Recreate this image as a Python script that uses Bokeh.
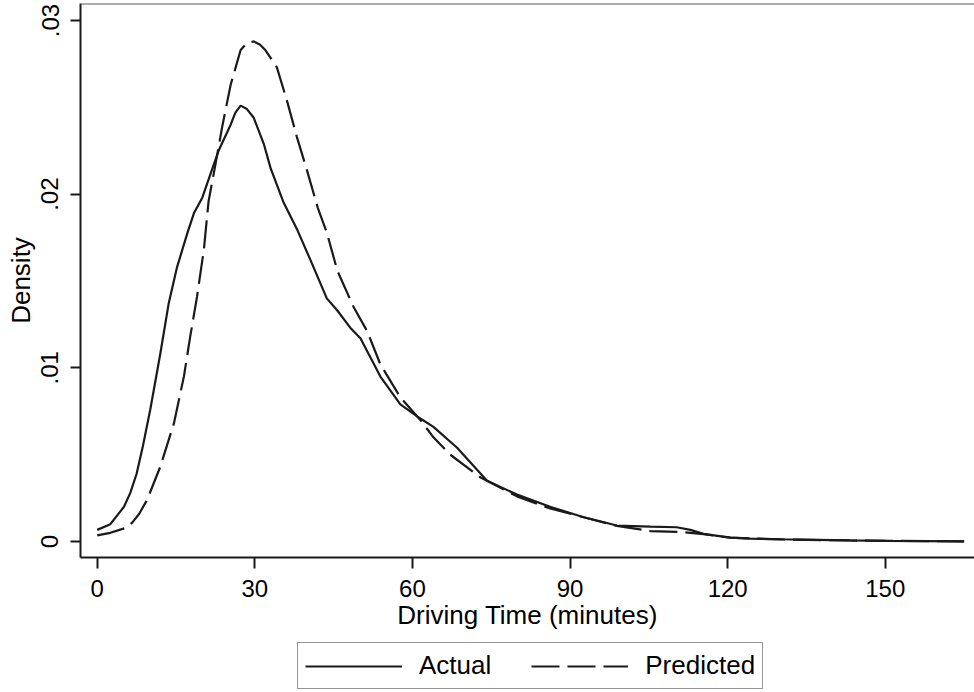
from bokeh.plotting import figure
from bokeh.layouts import column
from bokeh.models import Range1d, FixedTicker, Legend, LegendItem, Span, ColumnDataSource
from bokeh.embed import file_html
from bokeh.resources import INLINE

# ---- data ----
actual_x = [0, 2.5, 5.1, 6.3, 7.5, 8.7, 10.1, 12.0, 13.6, 15.2, 17.1, 18.4, 20.0,
            21.6, 23.1, 25.4, 26.3, 27.3, 28.5, 29.8, 31.7, 33.0, 35.5, 38.0, 40.6,
            43.7, 45.7, 48.2, 50.1, 53.9, 57.7, 60.9, 64.0, 68.5, 74.2, 79.9, 86.2,
            92.6, 98.9, 105.3, 110.3, 112.9, 115.4, 120.5, 124.3, 130.6, 133.8, 143.3,
            150.0, 165.0]
actual_y = [0.00067, 0.0010, 0.0020, 0.0028, 0.0039, 0.0055, 0.0076, 0.0108, 0.0137,
            0.0158, 0.0177, 0.0189, 0.0198, 0.0212, 0.0225, 0.0240, 0.0247, 0.0251,
            0.0249, 0.0244, 0.0229, 0.0215, 0.0195, 0.0180, 0.0162, 0.0140, 0.0133,
            0.0123, 0.0117, 0.0095, 0.0079, 0.0072, 0.0066, 0.0054, 0.0035, 0.0027,
            0.0020, 0.0014, 0.00092, 0.00086, 0.00082, 0.00067, 0.00044, 0.00022,
            0.00017, 0.00013, 0.00011, 0.00006, 0.00004, 0.00001]

pred_x = [0, 2.5, 5.4, 6.7, 8.0, 9.5, 12.0, 14.6, 16.5, 17.7, 19.0, 20.3, 21.2, 22.5,
          23.8, 25.4, 27.3, 28.5, 29.8, 31.0, 32.0, 34.2, 36.1, 38.0, 40.0, 42.0, 43.7,
          45.7, 48.8, 51.4, 53.9, 57.7, 61.5, 64.0, 67.2, 72.9, 79.9, 86.2, 92.6, 98.9,
          105.3, 111.5, 115.4, 120.5, 130.0, 143.0, 165.0]
pred_y = [0.00035, 0.00050, 0.00078, 0.0011, 0.0016, 0.0024, 0.0043, 0.0068, 0.0095,
          0.0118, 0.0141, 0.0168, 0.0196, 0.0217, 0.0239, 0.0263, 0.0283, 0.0287,
          0.0288, 0.0286, 0.0283, 0.0273, 0.0254, 0.0233, 0.0213, 0.0192, 0.0178,
          0.0156, 0.0135, 0.0121, 0.0102, 0.0083, 0.0070, 0.0060, 0.0050, 0.0037,
          0.0026, 0.0019, 0.0014, 0.0009, 0.0006, 0.00054, 0.00042, 0.00022, 0.00012,
          0.00006, 0.00001]

x_ticks = [0, 30, 60, 90, 120, 150]
y_ticks = [0, 0.01, 0.02, 0.03]
y_tick_labels = ["0", ".01", ".02", ".03"]
series_names = ["Actual", "Predicted"]

FONT = "Liberation Sans"
INK = "#1a1a1a"
Y_TOP = 0.03098
DASH = "28 8"
LW = 2.2

p = figure(width=974, height=637, output_backend="svg", toolbar_location=None,
           x_range=Range1d(-3.18, 166.98), y_range=Range1d(-0.000921, Y_TOP),
           min_border_left=80, min_border_right=0, min_border_top=3,
           min_border_bottom=80)
p.background_fill_color = "white"
p.border_fill_color = "white"
p.outline_line_color = None
p.grid.visible = False

src_a = ColumnDataSource(dict(x=actual_x, y=actual_y))
src_p = ColumnDataSource(dict(x=pred_x, y=pred_y))
p.line("x", "y", source=src_a, line_color=INK, line_width=LW)
p.line("x", "y", source=src_p, line_color=INK, line_width=LW, line_dash=DASH)

# top border line
p.add_layout(Span(location=Y_TOP, dimension="width", line_color="#5a5a5a",
                  line_width=2))

# x axis
xa = p.xaxis[0]
xa.ticker = FixedTicker(ticks=x_ticks)
xa.minor_tick_line_color = None
xa.major_tick_in = 0
xa.major_tick_out = 11
xa.major_tick_line_width = 2
xa.major_tick_line_color = INK
xa.axis_line_width = 2
xa.axis_line_color = INK
xa.major_label_text_font = FONT
xa.major_label_text_font_size = "24px"
xa.major_label_text_color = "black"
xa.major_label_standoff = 11
xa.axis_label = "Driving Time (minutes)"
xa.axis_label_text_font = FONT
xa.axis_label_text_font_size = "26px"
xa.axis_label_text_font_style = "normal"
xa.axis_label_text_color = "black"
xa.axis_label_standoff = 0

# y axis
ya = p.yaxis[0]
ya.ticker = FixedTicker(ticks=y_ticks)
ya.major_label_overrides = {t: l for t, l in zip(y_ticks, y_tick_labels)}
ya.major_label_orientation = "vertical"
ya.minor_tick_line_color = None
ya.major_tick_in = 0
ya.major_tick_out = 10
ya.major_tick_line_width = 2
ya.major_tick_line_color = INK
ya.axis_line_width = 2
ya.axis_line_color = INK
ya.major_label_text_font = FONT
ya.major_label_text_font_size = "24px"
ya.major_label_text_color = "black"
ya.major_label_standoff = 12
ya.axis_label = "Density"
ya.axis_label_text_font = FONT
ya.axis_label_text_font_size = "26px"
ya.axis_label_text_font_style = "normal"
ya.axis_label_text_color = "black"
ya.axis_label_standoff = 3

# legend strip below the chart (its key lines reuse the series data, kept
# outside this strip's visible range so only the legend keys show)
lg = figure(width=974, height=55, output_backend="svg", toolbar_location=None,
            x_range=Range1d(-20, -10), y_range=Range1d(0, 1),
            min_border_left=0, min_border_right=0, min_border_top=0,
            min_border_bottom=0)
lg.axis.visible = False
lg.grid.visible = False
lg.outline_line_color = None
lg.background_fill_color = "white"
lg.border_fill_color = "white"
ka = lg.line("x", "y", source=src_a, line_color=INK, line_width=LW)
kp = lg.line("x", "y", source=src_p, line_color=INK, line_width=LW, line_dash=DASH)

legend = Legend(items=[LegendItem(label=series_names[0], renderers=[ka]),
                       LegendItem(label=series_names[1], renderers=[kp])],
                orientation="horizontal", location=(217, 3))
legend.label_text_font = FONT
legend.label_text_font_size = "26px"
legend.label_text_color = "black"
legend.glyph_width = 97
legend.glyph_height = 20
legend.label_standoff = 17
legend.spacing = 40
legend.padding = 7
legend.margin = 0
legend.border_line_color = "#2a2a2a"
legend.border_line_width = 1.8
legend.background_fill_color = "white"
legend.background_fill_alpha = 1.0
lg.add_layout(legend, "center")

layout = column(p, lg, spacing=0)
open("out.html", "w").write(file_html(layout, INLINE))
